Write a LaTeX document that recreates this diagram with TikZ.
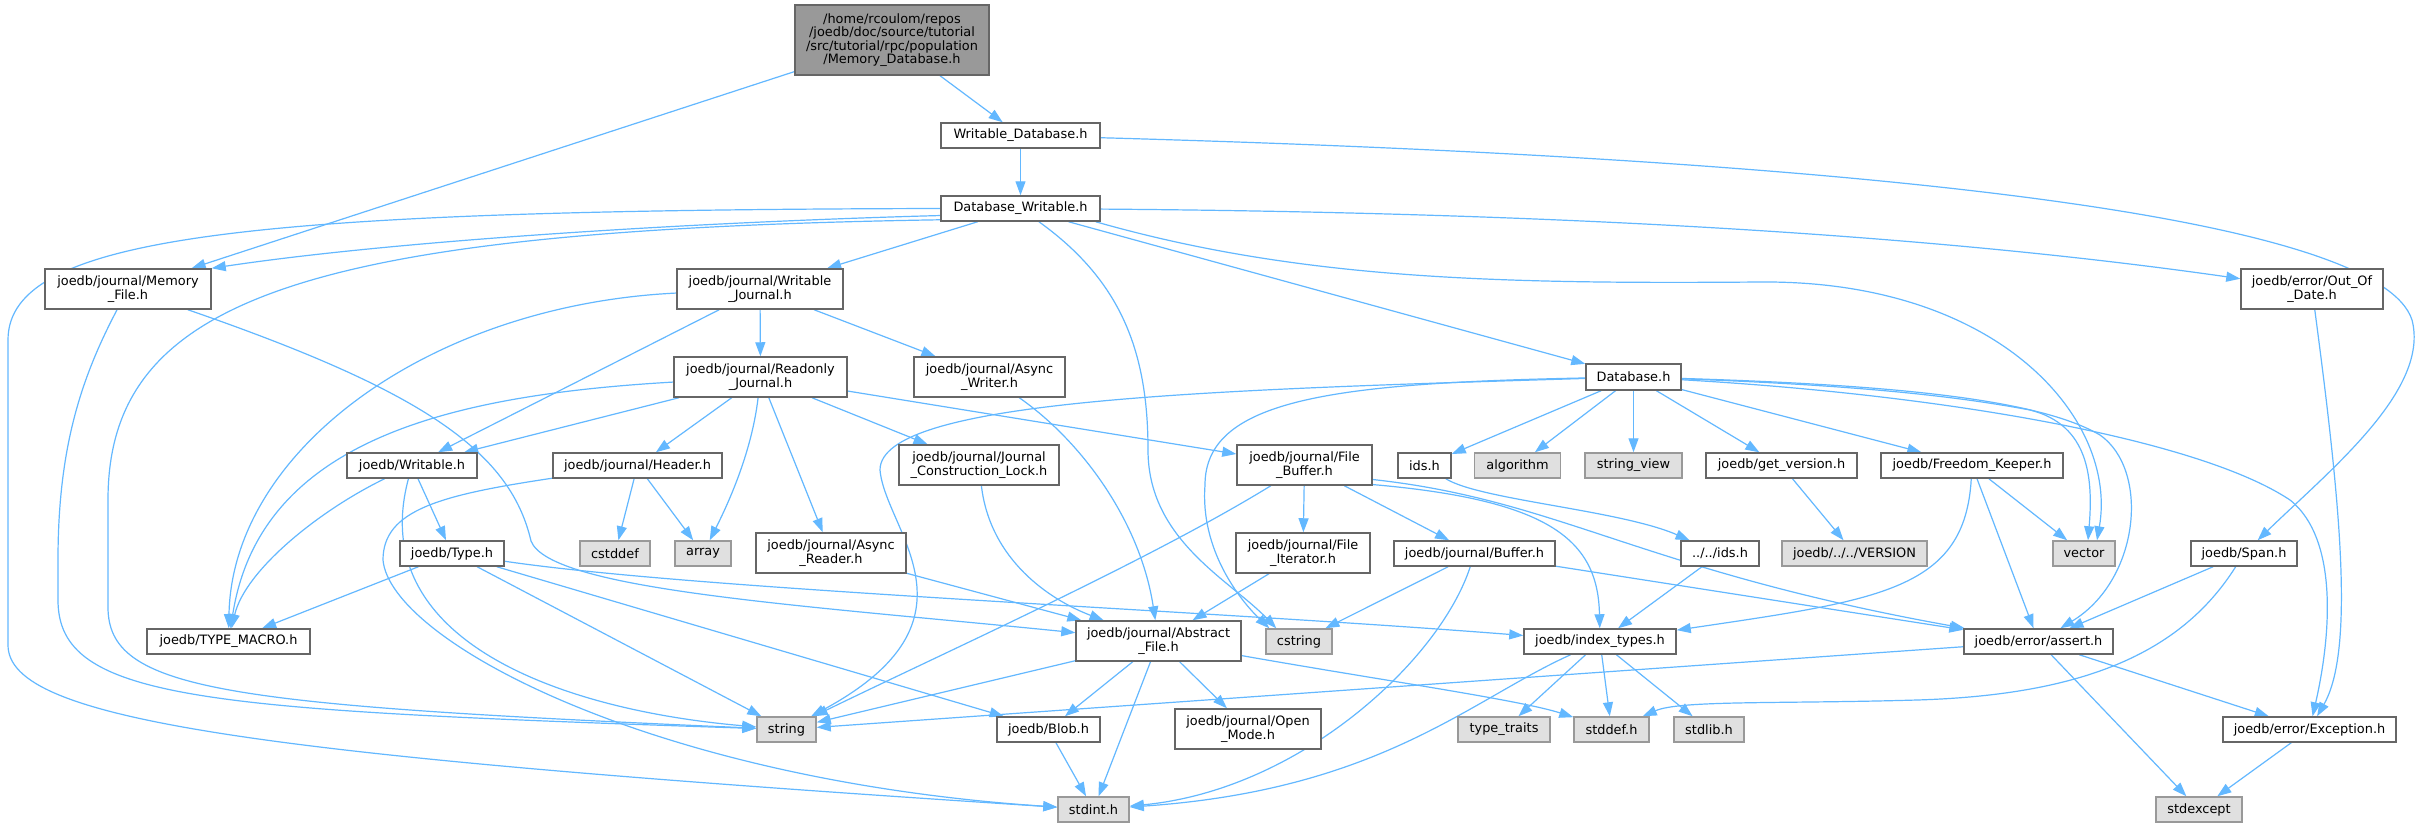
\documentclass[tikz,border=0pt]{standalone}
\usepackage{fontspec}
\setmainfont{DejaVu Sans}
\usetikzlibrary{arrows.meta}
\pgfdeclarelayer{bg}
\pgfsetlayers{bg,main}
\definecolor{cA}{HTML}{666666}
\definecolor{cB}{HTML}{999999}
\definecolor{cC}{HTML}{E0E0E0}
\definecolor{eb}{HTML}{63B8FF}
\newcommand\nodefont{\fontsize{12.9}{13.4}\selectfont}
\tikzset{
  nb/.style={draw=cA, fill=white, line width=1.5pt, inner sep=0pt, align=center, font=\nodefont, text=black},
  sb/.style={nb, draw=cB, fill=cC},
  mb/.style={nb, draw=cA, fill=cB},
  edge/.style={draw=eb, line width=1.2pt, -{Triangle[length=14pt,width=10pt]}},
}
\begin{document}
\begin{tikzpicture}[x=1pt,y=-1pt]
\useasboundingbox (0,0) rectangle (2424,828);
% nodes
\node[mb, minimum width=194pt, minimum height=70pt] (main) at (892,40) {/home/rcoulom/repos\\/joedb/doc/source/tutorial\\/src/tutorial/rpc/population\\/Memory\_Database.h};
\node[nb, minimum width=159pt, minimum height=25pt] (WDb) at (1020.5,135.5) {Writable\_Database.h};
\node[nb, minimum width=159pt, minimum height=25pt] (DbW) at (1020.5,208.5) {Database\_Writable.h};
\node[nb, minimum width=166pt, minimum height=40pt] (MemF) at (128,289) {joedb/journal/Memory\\\_File.h};
\node[nb, minimum width=166pt, minimum height=40pt] (WJ) at (760,289) {joedb/journal/Writable\\\_Journal.h};
\node[nb, minimum width=142pt, minimum height=40pt] (OOD) at (2312,289) {joedb/error/Out\_Of\\\_Date.h};
\node[nb, minimum width=173pt, minimum height=40pt] (RJ) at (760.5,377) {joedb/journal/Readonly\\\_Journal.h};
\node[nb, minimum width=151pt, minimum height=40pt] (AW) at (989.5,377) {joedb/journal/Async\\\_Writer.h};
\node[nb, minimum width=95pt, minimum height=26pt] (Db) at (1633.5,377) {Database.h};
\node[nb, minimum width=130pt, minimum height=25pt] (Writable) at (412,465.5) {joedb/Writable.h};
\node[nb, minimum width=169pt, minimum height=25pt] (Header) at (637.5,465.5) {joedb/journal/Header.h};
\node[nb, minimum width=160pt, minimum height=40pt] (JCL) at (979,465) {joedb/journal/Journal\\\_Construction\_Lock.h};
\node[nb, minimum width=135pt, minimum height=40pt] (FB) at (1304.5,465) {joedb/journal/File\\\_Buffer.h};
\node[nb, minimum width=53pt, minimum height=25pt] (ids) at (1424.5,465.5) {ids.h};
\node[sb, minimum width=86pt, minimum height=25pt] (algorithm) at (1517.5,465.5) {algorithm};
\node[sb, minimum width=97pt, minimum height=25pt] (sview) at (1633.5,465.5) {string\_view};
\node[nb, minimum width=151pt, minimum height=25pt] (gv) at (1781.5,465.5) {joedb/get\_version.h};
\node[nb, minimum width=182pt, minimum height=25pt] (FK) at (1972,465.5) {joedb/Freedom\_Keeper.h};
\node[nb, minimum width=104pt, minimum height=25pt] (Type) at (452,553.5) {joedb/Type.h};
\node[sb, minimum width=70pt, minimum height=25pt] (cstddef) at (615,553.5) {cstddef};
\node[sb, minimum width=56pt, minimum height=25pt] (array) at (703,553.5) {array};
\node[nb, minimum width=150pt, minimum height=40pt] (AR) at (831,553) {joedb/journal/Async\\\_Reader.h};
\node[nb, minimum width=134pt, minimum height=40pt] (FI) at (1303,553) {joedb/journal/File\\\_Iterator.h};
\node[nb, minimum width=161pt, minimum height=25pt] (Buffer) at (1474.5,553.5) {joedb/journal/Buffer.h};
\node[nb, minimum width=78pt, minimum height=25pt] (dotids) at (1720,553.5) {../../ids.h};
\node[sb, minimum width=145pt, minimum height=25pt] (VERSION) at (1854.5,553.5) {joedb/../../VERSION};
\node[sb, minimum width=62pt, minimum height=25pt] (vector) at (2084,553.5) {vector};
\node[nb, minimum width=106pt, minimum height=25pt] (Span) at (2244,553.5) {joedb/Span.h};
\node[nb, minimum width=163pt, minimum height=25pt] (TM) at (228.5,641.5) {joedb/TYPE\_MACRO.h};
\node[nb, minimum width=165pt, minimum height=40pt] (AF) at (1158.5,641) {joedb/journal/Abstract\\\_File.h};
\node[sb, minimum width=66pt, minimum height=25pt] (cstring) at (1299,641.5) {cstring};
\node[nb, minimum width=152pt, minimum height=25pt] (IT) at (1600,641.5) {joedb/index\_types.h};
\node[nb, minimum width=149pt, minimum height=25pt] (assert) at (2038.5,641.5) {joedb/error/assert.h};
\node[sb, minimum width=59pt, minimum height=25pt] (string) at (786.5,729.5) {string};
\node[nb, minimum width=103pt, minimum height=25pt] (Blob) at (1048.5,729.5) {joedb/Blob.h};
\node[nb, minimum width=146pt, minimum height=40pt] (OM) at (1248,729) {joedb/journal/Open\\\_Mode.h};
\node[sb, minimum width=92pt, minimum height=25pt] (tt) at (1504,729.5) {type\_traits};
\node[sb, minimum width=75pt, minimum height=25pt] (stddef) at (1611.5,729.5) {stddef.h};
\node[sb, minimum width=70pt, minimum height=25pt] (stdlib) at (1709,729.5) {stdlib.h};
\node[nb, minimum width=173pt, minimum height=25pt] (Exc) at (2309.5,729.5) {joedb/error/Exception.h};
\node[sb, minimum width=71pt, minimum height=25pt] (stdint) at (1093.5,809.5) {stdint.h};
\node[sb, minimum width=86pt, minimum height=25pt] (stdexcept) at (2199,809.5) {stdexcept};
% edges
\begin{pgfonlayer}{bg}
\fill[white] (0,0) rectangle (2424,828);
\draw[edge] (main) -- (WDb);
\draw[edge] (main) -- (MemF);
\draw[edge] (WDb) -- (DbW);
\draw[edge] (WDb) .. controls (1900,160) and (2380,220) .. (2412,320) .. controls (2430,390) and (2330,470) .. (Span);
\draw[edge] (DbW.185) .. controls (700,222) and (400,240) .. (MemF.north east);
\draw[edge] (DbW) -- (WJ);
\draw[edge] (DbW) -- (Db);
\draw[edge] (DbW) .. controls (1500,212) and (1900,230) .. (OOD);
\draw[edge] (DbW.180) .. controls (250,210) and (8,235) .. (8,340) -- (8,645) .. controls (8,720) and (250,755) .. (stdint);
\draw[edge] (DbW.188.5) .. controls (300,230) and (108,300) .. (108,500) -- (108,607) .. controls (108,690) and (220,705) .. (string);
\draw[edge] (DbW) .. controls (1120,280) and (1148,350) .. (1148,450) .. controls (1148,540) and (1230,580) .. ([xshift=11pt]cstring.north west);
\draw[edge] (DbW.-10.8) .. controls (1300,280) and (1500,284) .. (1760,282) .. controls (2000,280) and (2118,420) .. ([xshift=13pt]vector.north);
\draw[edge] (MemF) .. controls (80,380) and (58,450) .. (58,560) -- (58,600) .. controls (58,700) and (200,710) .. (string);
\draw[edge] (MemF) .. controls (420,390) and (510,450) .. (531,541) .. controls (550,590) and (800,605) .. (AF);
\draw[edge] (WJ) -- (RJ);
\draw[edge] (WJ) -- (AW);
\draw[edge] (WJ) .. controls (430,305) and (232,450) .. (TM);
\draw[edge] (WJ) -- (Writable);
\draw[edge] (RJ) .. controls (450,395) and (260,440) .. (TM);
\draw[edge] (RJ) -- (Writable);
\draw[edge] (RJ) -- (Header);
\draw[edge] (RJ) .. controls (752,450) and (730,500) .. (array);
\draw[edge] (RJ) -- (AR);
\draw[edge] (RJ) -- (JCL);
\draw[edge] (RJ) -- (FB);
\draw[edge] (AW) .. controls (1080,440) and (1140,520) .. (AF);
\draw[edge] (Writable) .. controls (320,510) and (245,570) .. (TM);
\draw[edge] (Writable) -- (Type);
\draw[edge] (Writable) .. controls (365,640) and (560,710) .. (string);
\draw[edge] (Header) -- (cstddef);
\draw[edge] (Header) -- (array);
\draw[edge] (Header) .. controls (440,495) and (383,510) .. (383,560) .. controls (390,640) and (650,780) .. (stdint);
\draw[edge] (Type) -- (TM);
\draw[edge] (Type) -- (string);
\draw[edge] (Type) -- (Blob);
\draw[edge] (Type) .. controls (700,590) and (1200,610) .. (IT);
\draw[edge] (JCL) .. controls (990,560) and (1050,600) .. (AF);
\draw[edge] (AR) -- (AF);
\draw[edge] (FB) .. controls (1150,560) and (950,650) .. (string);
\draw[edge] (FB) -- (FI);
\draw[edge] (FB) -- (Buffer);
\draw[edge] (FB.-16) .. controls (1550,500) and (1598,540) .. (IT);
\draw[edge] (FB.-12) .. controls (1560,500) and (1640,570) .. (assert);
\draw[edge] (FI) -- (AF);
\draw[edge] (Buffer) -- (cstring);
\draw[edge] (Buffer) .. controls (1440,660) and (1300,790) .. (stdint);
\draw[edge] (Buffer) -- (assert);
\draw[edge] (AF) -- (string);
\draw[edge] (AF) -- (Blob);
\draw[edge] (AF) -- (stdint);
\draw[edge] (AF) -- (OM);
\draw[edge] (AF) .. controls (1380,680) and (1520,700) .. (stddef);
\draw[edge] (Blob) -- (stdint);
\draw[edge] (Db) .. controls (1200,390) and (880,400) .. (880,470) .. controls (885,530) and (990,620) .. (string);
\draw[edge] (Db) .. controls (1330,383) and (1205,400) .. (1205,485) .. controls (1200,550) and (1240,600) .. ([xshift=4pt]cstring.north west);
\draw[edge] (Db) -- (ids);
\draw[edge] (Db) -- (algorithm);
\draw[edge] (Db) -- (sview);
\draw[edge] (Db) -- (gv);
\draw[edge] (Db) -- (FK);
\draw[edge] (Db) .. controls (1850,385) and (1950,395) .. (2030,410) .. controls (2090,425) and (2093,480) .. ([xshift=4pt]vector.north);
\draw[edge] (Db) .. controls (1900,385) and (2040,400) .. (2100,435) .. controls (2150,470) and (2140,580) .. (assert);
\draw[edge] (Db) .. controls (1950,395) and (2200,440) .. (2290,500) .. controls (2340,540) and (2330,640) .. (Exc);
\draw[edge] (ids) .. controls (1480,500) and (1620,510) .. (dotids);
\draw[edge] (dotids) -- (IT);
\draw[edge] (gv) -- (VERSION);
\draw[edge] (FK) .. controls (1965,590) and (1880,600) .. (IT);
\draw[edge] (FK) -- (assert);
\draw[edge] (FK) -- (vector);
\draw[edge] (IT) -- (tt);
\draw[edge] (IT) -- (stddef);
\draw[edge] (IT) -- (stdlib);
\draw[edge] (IT) .. controls (1470,700) and (1380,790) .. (stdint);
\draw[edge] (assert) -- (string);
\draw[edge] (assert) -- (stdexcept);
\draw[edge] (assert) -- (Exc);
\draw[edge] (Exc) -- (stdexcept);
\draw[edge] (Span) -- (assert);
\draw[edge] (Span) .. controls (2180,655) and (2080,695) .. (1917,700) .. controls (1780,704) and (1680,700) .. ([xshift=-7pt]stddef.north east);
\draw[edge] (OOD) .. controls (2340,500) and (2355,650) .. (Exc);
\end{pgfonlayer}
\end{tikzpicture}
\end{document}
